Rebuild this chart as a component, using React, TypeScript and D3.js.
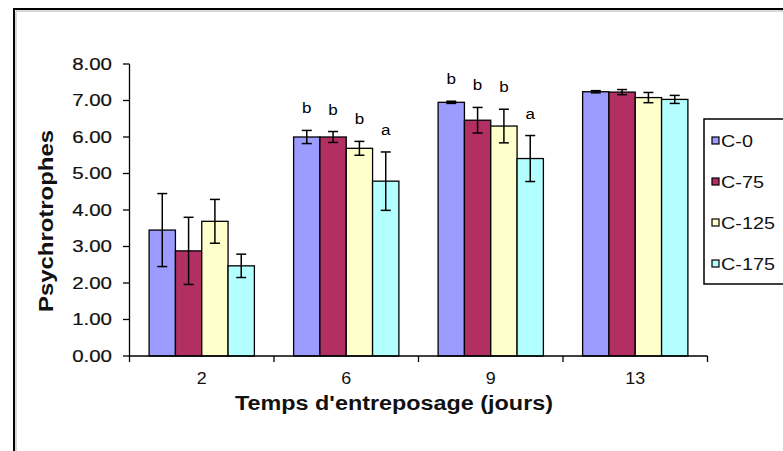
import React from "react";
import * as d3 from "d3";

const categories = ["2", "6", "9", "13"];
const series = ["C-0", "C-75", "C-125", "C-175"];
const colors = ["#9C9CFF", "#B12F62", "#FFFFCC", "#B3FFFF"];
const meansC0 = [3.45, 6.0, 6.95, 7.24];
const meansC75 = [2.88, 6.0, 6.46, 7.23];
const meansC125 = [3.69, 5.69, 6.3, 7.08];
const meansC175 = [2.47, 4.79, 5.41, 7.03];
const errC0 = [1.0, 0.18, 0.03, 0.03];
const errC75 = [0.92, 0.15, 0.35, 0.07];
const errC125 = [0.6, 0.19, 0.46, 0.14];
const errC175 = [0.32, 0.8, 0.63, 0.11];
const lettersC0 = ["", "b", "b", ""];
const lettersC75 = ["", "b", "b", ""];
const lettersC125 = ["", "b", "b", ""];
const lettersC175 = ["", "a", "a", ""];
const yTicks = [0, 1, 2, 3, 4, 5, 6, 7, 8];

const means = [meansC0, meansC75, meansC125, meansC175];
const errs = [errC0, errC75, errC125, errC175];
const letters = [lettersC0, lettersC75, lettersC125, lettersC175];

export default function App() {
  const W = 783, H = 451;
  const x0 = d3.scaleBand<string>().domain(categories).range([129.5, 707.5]).paddingInner(0.2714).paddingOuter(0.1357);
  const x1 = d3.scaleBand<string>().domain(series).range([0, x0.bandwidth()]);
  const y = d3.scaleLinear().domain([0, 8]).range([356, 64]);
  const font = "Arial, 'Liberation Sans', sans-serif";
  const boundaries = [...categories.map((c) => x0(c)! - x0.step() * 0.1357), 707.5];

  return (
    <svg width={W} height={H} style={{ position: "absolute", left: 0, top: 0, background: "#fff" }} fontFamily={font}>
      <rect x={0} y={0} width={W} height={H} fill="#fff" />
      {/* frame */}
      <line x1={14} y1={8} x2={14} y2={H} stroke="#000" strokeWidth={2} />
      <line x1={13} y1={9} x2={W} y2={9} stroke="#000" strokeWidth={2} />
      <line x1={16} y1={11} x2={16} y2={H} stroke="#b0b0b0" strokeWidth={1} />
      <line x1={16} y1={11} x2={W} y2={11} stroke="#b0b0b0" strokeWidth={1} />

      {/* bars */}
      {series.map((s, si) =>
        categories.map((c, ci) => {
          const bx = x0(c)! + x1(s)!;
          const bw = x1.bandwidth();
          const v = means[si][ci];
          const e = errs[si][ci];
          const cx = bx + bw / 2;
          return (
            <g key={s + c}>
              <rect x={bx} y={y(v)} width={bw} height={y(0) - y(v)} fill={colors[si]} stroke="#000" strokeWidth={1.3} />
              <line x1={cx} x2={cx} y1={y(v + e)} y2={y(v - e)} stroke="#000" strokeWidth={1.5} />
              <line x1={cx - 5} x2={cx + 5} y1={y(v + e)} y2={y(v + e)} stroke="#000" strokeWidth={1.5} />
              <line x1={cx - 5} x2={cx + 5} y1={y(v - e)} y2={y(v - e)} stroke="#000" strokeWidth={1.5} />
              {letters[si][ci] && (
                <text transform={`translate(${cx},${y(v + e) - 17}) scale(1.1,1)`} textAnchor="middle" fontSize={15.5} fill="#000">
                  {letters[si][ci]}
                </text>
              )}
            </g>
          );
        })
      )}

      {/* y axis */}
      <line x1={129.5} x2={129.5} y1={y(8)} y2={y(0)} stroke="#000" strokeWidth={1.3} />
      {yTicks.map((t) => (
        <g key={t}>
          <line x1={123} x2={129.5} y1={y(t)} y2={y(t)} stroke="#000" strokeWidth={1.3} />
          <text transform={`translate(112,${y(t) + 5.8}) scale(1.28,1)`} textAnchor="end" fontSize={16} fill="#111" stroke="#111" strokeWidth={0.2}>
            {t.toFixed(2)}
          </text>
        </g>
      ))}

      {/* x axis */}
      <line x1={129.5} x2={707.5} y1={y(0)} y2={y(0)} stroke="#000" strokeWidth={1.3} />
      {boundaries.map((b, i) => (
        <line key={i} x1={b} x2={b} y1={y(0)} y2={y(0) + 6} stroke="#000" strokeWidth={1.3} />
      ))}
      {categories.map((c) => (
        <text key={c} transform={`translate(${x0(c)! + x0.bandwidth() / 2},384) scale(1.05,1)`} textAnchor="middle" fontSize={17} fill="#111">
          {c}
        </text>
      ))}

      {/* titles */}
      <text x={394} y={410} textAnchor="middle" fontSize={19.5} fontWeight="bold" textLength={318} lengthAdjust="spacingAndGlyphs" fill="#111">
        Temps d'entreposage (jours)
      </text>
      <text transform="translate(53,221) rotate(-90)" textAnchor="middle" fontSize={20} fontWeight="bold" textLength={182} lengthAdjust="spacingAndGlyphs" fill="#111">
        Psychrotrophes
      </text>

      {/* legend */}
      <rect x={704} y={119} width={100} height={165} fill="#fff" stroke="#000" strokeWidth={1.5} />
      {series.map((s, i) => {
        const cy = 141 + i * 41;
        return (
          <g key={s}>
            <rect x={712} y={cy - 4} width={7} height={7} fill={colors[i]} stroke="#000" strokeWidth={1.2} />
            <text transform={`translate(721,${cy + 5.8}) scale(1.2,1)`} fontSize={16.5} fill="#111">
              {s}
            </text>
          </g>
        );
      })}
    </svg>
  );
}
